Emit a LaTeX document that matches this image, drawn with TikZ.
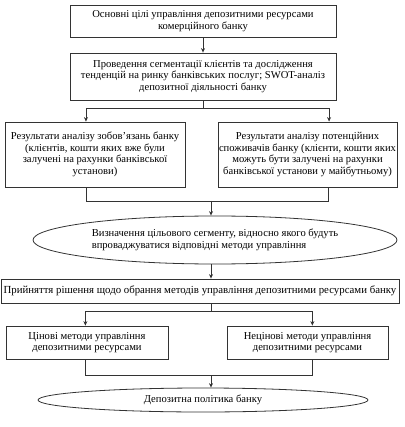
\documentclass[tikz,border=0pt]{standalone}
\usepackage{fontspec}
\setmainfont{Liberation Serif}
\usetikzlibrary{shapes.geometric,arrows.meta,calc}
\begin{document}
\begin{tikzpicture}[x=1pt,y=-1pt,
  box/.style={draw=black!80,line width=0.8pt,rectangle,align=center,inner sep=0pt,font=\fontsize{10.6}{11.6}\selectfont},
  oval/.style={draw=black!80,line width=0.8pt,ellipse,align=left,inner sep=0pt,font=\fontsize{10.6}{11.6}\selectfont},
  link/.style={draw=black!80,line width=0.8pt},
  arr/.style={link,-{Stealth[length=4.5pt,width=4pt]}}]
\useasboundingbox (0,0) rectangle (404,427);
\node[box,minimum width=266pt,minimum height=32pt] (b1) at (203,21)
  {Основні цілі управління депозитними ресурсами\\комерційного банку};
\node[box,minimum width=266pt,minimum height=47pt] (b2) at (203,76.5)
  {Проведення сегментації клієнтів та дослідження\\тенденцій на ринку банківських послуг; SWOT-аналіз\\депозитної діяльності банку};
\node[box,minimum width=180pt,minimum height=65pt] (b3) at (95,154.5)
  {Результати аналізу зобов’язань банку\\(клієнтів, кошти яких вже були\\залучені на рахунки банківської\\установи)};
\node[box,minimum width=179pt,minimum height=65pt] (b4) at (307.5,154.5)
  {Результати аналізу потенційних\\споживачів банку (клієнти, кошти яких\\можуть бути залучені на рахунки\\банківської установи у майбутньому)};
\node[oval,minimum width=364pt,minimum height=48pt] (e1) at (215,240)
  {Визначення цільового сегменту, відносно якого будуть\\впроваджуватися відповідні методи управління};
\node[box,minimum width=398pt,minimum height=24pt,font=\fontsize{10.8}{11.6}\selectfont] (b5) at (200,291)
  {Прийняття рішення щодо обрання методів управління депозитними ресурсами банку};
\node[box,minimum width=162pt,minimum height=33pt] (b6) at (87,342.5)
  {Цінові методи управління\\депозитними ресурсами};
\node[box,minimum width=161pt,minimum height=33pt] (b7) at (307.5,342.5)
  {Нецінові методи управління\\депозитними ресурсами};
\node[oval,align=center,minimum width=330pt,minimum height=24pt] (e2) at (203,400)
  {Депозитна політика банку};
% connectors
\draw[arr] (b1.south) -- (b2.north);
\coordinate (j1) at ($(b2.south)+(0,8)$);
\coordinate (t3) at ($(b3.north west)!0.45!(b3.north east)$);
\coordinate (t4) at ($(b4.north west)!0.62!(b4.north east)$);
\draw[link] (b2.south) -- (j1);
\draw[arr] (j1) -| (t3);
\draw[arr] (j1) -| (t4);
\coordinate (s3) at ($(b3.south west)!0.45!(b3.south east)$);
\coordinate (s4) at ($(b4.south west)!0.615!(b4.south east)$);
\coordinate (j2) at (211,201);
\draw[link] (s3) |- (j2);
\draw[link] (s4) |- (j2);
\draw[arr] (j2) -- (j2 |- e1.north);
\draw[arr] (e1.south -| 211,0) -- (b5.north -| 211,0);
\coordinate (j3) at (211,311);
\coordinate (t6) at ($(b6.north west)!0.49!(b6.north east)$);
\coordinate (t7) at ($(b7.north west)!0.53!(b7.north east)$);
\draw[link] (b5.south -| j3) -- (j3);
\draw[arr] (j3) -| (t6);
\draw[arr] (j3) -| (t7);
\coordinate (s6) at ($(b6.south west)!0.49!(b6.south east)$);
\coordinate (s7) at ($(b7.south west)!0.53!(b7.south east)$);
\coordinate (j4) at (211,375);
\draw[link] (s6) |- (j4);
\draw[link] (s7) |- (j4);
\draw[arr] (j4) -- (j4 |- e2.north);
\end{tikzpicture}
\end{document}
